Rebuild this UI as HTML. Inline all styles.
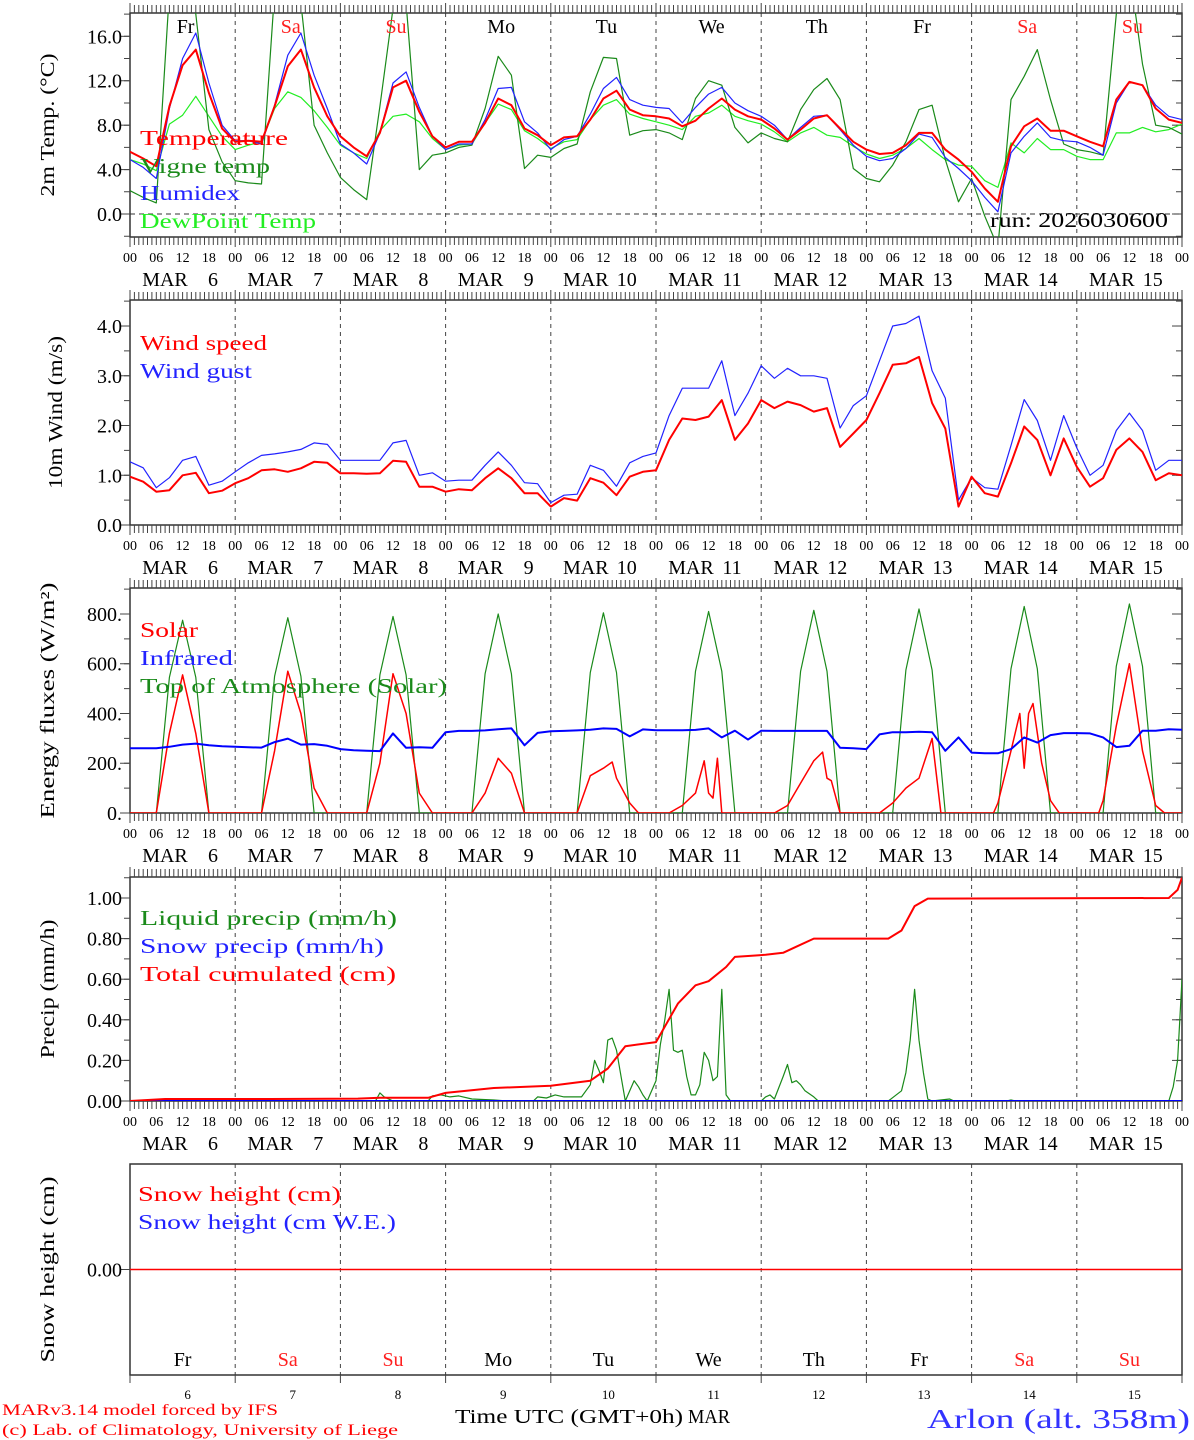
<!DOCTYPE html>
<html><head><meta charset="utf-8"><style>
html,body{margin:0;padding:0;background:#fff;}
svg{display:block;font-family:"Liberation Serif",serif;}
</style></head><body>
<svg id="chart" width="1194" height="1440" viewBox="0 0 1194 1440" xmlns="http://www.w3.org/2000/svg"></svg>
<script>
// ---------- data ----------
const dayNames = ["Fr","Sa","Su","Mo","Tu","We","Th","Fr","Sa","Su"];
const dayNums = ["6","7","8","9","10","11","12","13","14","15"];
const hourLabels = ["00","06","12","18"];
const tempTicks = ["0.0","4.0","8.0","12.0","16.0"];
const windTicks = ["0.0","1.0","2.0","3.0","4.0"];
const energyTicks = ["0.","200.","400.","600.","800."];
const precipTicks = ["0.00","0.20","0.40","0.60","0.80","1.00"];
const snowTicks = ["0.00"];
// 3-hourly series, hours 0..240
const temperature = [5.6,5.0,4.3,9.7,13.4,14.8,10.9,7.7, 6.5,6.6,6.5,9.7,13.3,14.8,11.4,8.8, 7.0,6.0,5.2,7.3,11.4,12.0,9.2,7.0, 6.0,6.5,6.5,8.2,10.4,9.8,7.7,7.1, 6.2,6.9,7.0,8.5,10.4,11.1,9.4,8.9, 8.8,8.6,7.9,8.4,9.5,10.4,9.4,8.8, 8.5,7.7,6.7,7.6,8.6,8.9,7.7,6.5, 5.8,5.4,5.5,6.2,7.3,7.3,5.8,4.9, 3.8,2.3,1.1,6.1,7.9,8.6,7.5,7.5, 7.0,6.5,6.1,10.3,11.9,11.6,9.5,8.5, 8.2];
const vigneTemp = [2.1,1.5,1.0,20,24,18,7.6,4.7, 3.0,2.8,2.7,20,25,19,8.0,5.5, 3.3,2.2,1.3,9.7,18.5,19,4.0,5.3, 5.5,6.0,6.2,9.5,14.2,12.5,4.1,5.3, 5.1,5.9,6.3,11,14.1,14.0,7.1,7.5, 7.6,7.3,6.7,10.4,12.0,11.6,7.8,6.4, 7.3,6.8,6.5,9.4,11.2,12.2,10.3,4.1, 3.2,2.9,4.4,6.5,9.4,9.8,4.9,1.1, 3.2,-0.2,-3,10.3,12.4,14.8,10.3,6.3, 5.8,5.6,5.3,18,22,13.5,8,7.8, 7.2];
const humidex = [4.9,4.2,3.2,9.5,14.0,16.3,11.8,8.0, 6.6,6.6,6.3,9.8,14.3,16.3,12.5,9.5, 6.3,5.5,4.5,7.3,11.8,12.8,9.6,7.0, 5.8,6.3,6.3,8.5,11.3,11.4,8.3,7.3, 5.8,6.7,7.0,9.0,11.3,12.3,10.3,9.8, 9.6,9.5,8.2,9.6,10.8,11.4,10.0,9.3, 8.8,8.0,6.7,7.8,8.8,8.9,7.6,6.2, 5.2,4.8,5.0,5.9,7.2,6.9,5.1,4.1, 3.0,1.5,0.2,5.5,7.0,8.2,6.9,6.6, 6.5,6.0,5.3,10.0,11.9,11.6,9.8,8.8, 8.5];
const dewPoint = [4.9,4.5,3.9,8.1,8.9,10.6,8.8,7.0, 5.8,6.2,6.5,9.5,11.0,10.5,9.3,7.8, 6.2,5.5,5.0,7.5,8.8,9.0,8.3,6.8, 5.8,6.2,6.3,8.2,9.9,9.4,7.5,6.8, 5.9,6.5,6.7,8.5,9.8,10.3,9.0,8.6, 8.3,8.0,7.6,8.8,9.1,9.8,8.8,8.4, 8.1,7.4,6.5,7.3,7.8,7.1,6.9,6.1, 5.4,5.0,5.3,5.9,6.8,5.8,4.9,4.4, 4.3,3.0,2.4,6.4,5.5,6.8,5.8,5.8, 5.2,4.9,4.9,7.3,7.3,7.8,7.4,7.6, 8.1];
const windSpeed = [0.97,0.87,0.67,0.70,1.0,1.05,0.64,0.69, 0.84,0.94,1.1,1.12,1.07,1.14,1.27,1.25, 1.04,1.04,1.03,1.04,1.29,1.27,0.77,0.77, 0.67,0.72,0.70,0.94,1.14,0.94,0.64,0.64, 0.37,0.54,0.49,0.94,0.85,0.60,0.97,1.07, 1.1,1.71,2.14,2.11,2.18,2.51,1.71,2.04, 2.51,2.35,2.48,2.41,2.28,2.35,1.57,1.84, 2.11,2.65,3.22,3.25,3.38,2.45,1.94,0.37, 0.97,0.64,0.57,1.24,1.98,1.71,1.0,1.74, 1.17,0.77,0.94,1.51,1.74,1.47,0.90,1.04, 1.0];
const windGust = [1.27,1.15,0.75,0.95,1.30,1.38,0.80,0.88, 1.07,1.25,1.40,1.43,1.47,1.52,1.65,1.62, 1.3,1.3,1.3,1.3,1.65,1.7,1.0,1.05, 0.88,0.9,0.9,1.2,1.47,1.2,0.85,0.83, 0.45,0.6,0.62,1.2,1.1,0.78,1.25,1.38, 1.45,2.2,2.75,2.75,2.75,3.3,2.2,2.65, 3.2,2.95,3.15,3.0,3.0,2.95,1.95,2.4, 2.6,3.3,4.0,4.05,4.2,3.1,2.55,0.5, 0.95,0.75,0.72,1.6,2.52,2.1,1.3,2.2, 1.55,1.0,1.2,1.9,2.25,1.9,1.1,1.3, 1.3];
const infrared = [260,260,260,266,275,279,272,268, 266,264,263,285,299,275,277,270, 257,252,250,249,320,262,264,262, 325,330,330,332,337,340,272,322, 329,330,332,335,340,338,308,336, 333,333,333,334,340,304,331,295, 331,330,330,330,330,330,262,260, 257,316,325,325,327,325,250,304, 243,240,240,257,304,283,313,321, 321,320,304,265,270,331,331,337, 335];
const toaSolar = [0,0,0,545,775,545,0,0, 0,0,0,550,785,550,0,0, 0,0,0,555,790,555,0,0, 0,0,0,560,800,560,0,0, 0,0,0,565,805,565,0,0, 0,0,0,570,810,570,0,0, 0,0,0,570,815,570,0,0, 0,0,0,575,820,575,0,0, 0,0,0,580,830,580,0,0, 0,0,0,590,840,590,0,0, 0];
const solarHours = [0,6,9,12,15,18, 30,33,36,39,42,45, 54,57,60,63,66,69, 78,81,84,87,90, 102,105,108,110,111,114,116, 123,126,129,131,132,133,134,135, 147,150,153,156,158,159,160,162, 171,174,177,180,183,185, 197,198,201,203,204,205,206,208,210,212, 221,222,225,228,231,234,236,240];
const solarVals = [0,0,320,555,320,0, 0,250,570,400,100,0, 0,200,560,400,80,0, 0,80,220,160,0, 0,150,180,205,140,40,0, 0,30,80,210,80,60,220,0, 0,30,120,210,245,140,130,0, 0,40,100,140,300,0, 0,40,250,400,180,400,440,200,50,0, 0,50,350,600,250,30,0,0];
const liquidHours = [0,30,31.5,33,56,57,58,60,68,69,71,73,75,78,83,86,92,93,95,97,99,103,105,106,107,108,109,110,111,113,115,116,117,118,120,121,122,123,124,125,126,127,128,129,130,131,132,133,134,135,136,137,144,145,146,147,149,150,151,152,153,154,156,157,173,176,177,178,179,180,181,182,183,187,188,200,201,202,237,238,239,240];
const liquidVals = [0,0,0.01,0,0,0.04,0.02,0,0,0.025,0.03,0.02,0.025,0.01,0.005,0,0,0.02,0.015,0.03,0.02,0.02,0.08,0.2,0.15,0.09,0.3,0.31,0.25,0,0.1,0.07,0.03,0,0.1,0.28,0.4,0.55,0.25,0.24,0.25,0.12,0.03,0.03,0.08,0.24,0.2,0.1,0.12,0.55,0.03,0,0,0.02,0.03,0.01,0.12,0.18,0.09,0.1,0.08,0.05,0.02,0,0,0.05,0.14,0.3,0.55,0.3,0.14,0.01,0,0.01,0,0,0.005,0,0,0.07,0.2,0.6];
const cumHours = [0,8,32,52,57,68,72,83,96,105,109,113,120,125,129,132,136,138,145,149,152,156,173,176,179,182,237,239,240];
const cumVals = [0,0.01,0.01,0.012,0.016,0.016,0.04,0.064,0.075,0.10,0.16,0.27,0.29,0.48,0.57,0.59,0.66,0.71,0.72,0.73,0.76,0.80,0.80,0.84,0.96,0.997,1.0,1.04,1.10];
const snowPrecip = [0,0];
const snowHeight = [0,0];
const snowHours = [0,240];

// ---------- layout ----------
const NS = "http://www.w3.org/2000/svg";
const svg = document.getElementById("chart");
const X0 = 130, X1 = 1182;
function xOf(h){ return X0 + h*(X1-X0)/240; }
function mk(tag, attrs, parent){
  const e = document.createElementNS(NS, tag);
  for (const k in attrs) e.setAttribute(k, attrs[k]);
  (parent||svg).appendChild(e);
  return e;
}
const panels = [
  {top:13, bot:237, vmin:-2.07, vmax:18.1, ticks:tempTicks, minor:2, title:"2m Temp. (°C)", tlen:143, tcx:47, name:"temperature-panel"},
  {top:300, bot:525, vmin:0, vmax:4.523, ticks:windTicks, minor:0.5, title:"10m Wind (m/s)", tlen:153, tcx:55, name:"wind-panel"},
  {top:588, bot:813, vmin:0, vmax:904.5, ticks:energyTicks, minor:100, title:"Energy fluxes (W/m²)", tlen:236, tcx:47, name:"energy-panel"},
  {top:877, bot:1101, vmin:0, vmax:1.1034, ticks:precipTicks, minor:0.1, title:"Precip (mm/h)", tlen:139, tcx:47, name:"precip-panel"},
  {top:1164, bot:1375, vmin:-0.5, vmax:0.5, ticks:snowTicks, minor:0, title:"Snow height (cm)", tlen:186, tcx:47, name:"snow-panel"}
];
panels.forEach(p=>{ p.y = v => p.bot - (v - p.vmin)/(p.vmax - p.vmin)*(p.bot - p.top); });

panels.forEach((p,pi)=>{
  const g = mk("g",{});
  
  
  const cp = mk("clipPath",{id:"clip"+pi}, g);
  mk("rect",{x:X0,y:p.top,width:X1-X0,height:p.bot-p.top}, cp);
  for(let d=1; d<10; d++){
    const l = mk("line",{x1:xOf(d*24),x2:xOf(d*24),y1:p.top,y2:p.bot,stroke:"#444","stroke-width":1,"stroke-dasharray":"4,4"}, g);
    
    
  }
  const fr = mk("rect",{x:X0,y:p.top,width:X1-X0,height:p.bot-p.top,fill:"none",stroke:"#333","stroke-width":1.5}, g);
  
  
  if(pi<4){
    let d = "";
    for(let h=0; h<=240; h++){
      const x = xOf(h).toFixed(1);
      const len = (h%24===0)?10:8;
      d += `M${x} ${p.top}v${-len}M${x} ${p.bot}v${len}`;
    }
    const tk = mk("path",{d:d,stroke:"#444","stroke-width":1,fill:"none"}, g);
    
    
    for(let dd=0; dd<10; dd++){
      for(let k=0;k<4;k++){
        const t = mk("text",{x:xOf(dd*24+k*6),y:p.bot+25,"font-size":14,"text-anchor":"middle",fill:"#000"}, g);
        t.textContent = hourLabels[k];
        
        
      }
      const m = mk("text",{x:xOf(dd*24)+35,y:p.bot+49,"font-size":20,"text-anchor":"middle",fill:"#000"}, g);
      m.textContent = "MAR";
      
      
      const n = mk("text",{x:xOf(dd*24)+(dayNums[dd].length>1?76:83),y:p.bot+49,"font-size":20,"text-anchor":"middle",fill:"#000"}, g);
      n.textContent = dayNums[dd];
      
      
    }
    const t = mk("text",{x:X1,y:p.bot+25,"font-size":14,"text-anchor":"middle",fill:"#000"}, g);
    t.textContent = "00";
    
    
  } else {
    let d = "";
    for(let dd=0; dd<=10; dd++){ const x = xOf(dd*24).toFixed(1); d += `M${x} ${p.bot}v8`; }
    const tk = mk("path",{d:d,stroke:"#444","stroke-width":1,fill:"none"}, g);
    
    
  }
  if(p.minor>0){
    let d="";
    for(let v=Math.ceil(p.vmin/p.minor)*p.minor; v<=p.vmax+1e-9; v+=p.minor){
      const y = p.y(v).toFixed(1);
      d += `M${X0} ${y}h-6M${X1} ${y}h-6`;
    }
    const tk = mk("path",{d:d,stroke:"#444","stroke-width":1,fill:"none"}, g);
    
    
  }
  p.ticks.forEach(lbl=>{
    const v = parseFloat(lbl);
    const y = p.y(v);
    const tl = mk("line",{x1:X0-10,x2:X0,y1:y,y2:y,stroke:"#444","stroke-width":1}, g);
    
    
    const tr = mk("line",{x1:X1-10,x2:X1,y1:y,y2:y,stroke:"#444","stroke-width":1}, g);
    
    
    const t = mk("text",{x:122,y:y+7,"font-size":20,"text-anchor":"end",fill:"#000"}, g);
    t.textContent = lbl;
    
    
  });
  const yc = (p.top+p.bot)/2;
  const tt = mk("text",{x:p.tcx,y:yc,"font-size":20,"text-anchor":"middle",transform:`rotate(-90 ${p.tcx} ${yc})`,textLength:p.tlen,lengthAdjust:"spacingAndGlyphs",dy:7,fill:"#000"}, g);
  tt.textContent = p.title;
  
  
  p.g = g;
});

function series(pi, hours, vals, color, width, name){
  const p = panels[pi];
  const n = Math.min(hours.length, vals.length);
  const pts = [];
  for(let i=0;i<n;i++) pts.push(xOf(hours[i]).toFixed(1)+","+p.y(vals[i]).toFixed(1));
  const pl = mk("polyline",{points:pts.join(" "),fill:"none",stroke:color,"stroke-width":width,"stroke-linejoin":"round","clip-path":`url(#clip${pi})`}, p.g);
  
  
}
const h3 = temperature.map((_,i)=>i*3);

{
  const p = panels[0];
  const zl = mk("line",{x1:X0,x2:X1,y1:p.y(0),y2:p.y(0),stroke:"#333","stroke-width":1,"stroke-dasharray":"5,4"}, p.g);
  
  
}
series(0, h3, dewPoint, "#22ee22", 1.2, "dewpoint-line");
series(0, h3, vigneTemp, "#1a8a1a", 1.2, "vigne-temp-line");
series(0, h3, humidex, "#2222ff", 1.2, "humidex-line");
series(0, h3, temperature, "#ff0000", 2, "temperature-line");
series(1, h3, windGust, "#2222ff", 1.2, "wind-gust-line");
series(1, h3, windSpeed, "#ff0000", 2, "wind-speed-line");
series(2, h3, toaSolar, "#1a8a1a", 1.2, "toa-solar-line");
series(2, solarHours, solarVals, "#ff0000", 1.5, "solar-line");
series(2, h3, infrared, "#0000ff", 2, "infrared-line");
series(3, liquidHours, liquidVals, "#1a8a1a", 1.2, "liquid-precip-line");
series(3, snowHours, snowPrecip, "#0000ff", 2, "snow-precip-line");
series(3, cumHours, cumVals, "#ff0000", 2, "cumulated-precip-line");
series(4, snowHours, snowHeight, "#ff0000", 1.5, "snow-height-line");

for(let d=0; d<10; d++){
  const red = (dayNames[d]==="Sa"||dayNames[d]==="Su");
  const t = mk("text",{x:xOf(d*24+12)+3,y:33,"font-size":20,"text-anchor":"middle",fill:red?"#ff2020":"#000"});
  t.textContent = dayNames[d];
  
  
  const b = mk("text",{x:xOf(d*24+12),y:1366,"font-size":20,"text-anchor":"middle",fill:red?"#ff2020":"#000"});
  b.textContent = dayNames[d];
  
  
  const n = mk("text",{x:xOf(d*24+12)+5,y:1399,"font-size":13,"text-anchor":"middle",fill:"#000"});
  n.textContent = dayNums[d];
  
  
}

function legend(x,y,txt,color,len,size,name){
  const t = mk("text",{x:x,y:y,"font-size":size||21,fill:color,textLength:len,lengthAdjust:"spacingAndGlyphs"});
  t.textContent = txt;
  
  
}
legend(140,145,"Temperature","#ff0000",148,21,"legend-temperature");
legend(140,173,"Vigne temp","#1a8a1a",130,21,"legend-vigne-temp");
legend(140,200,"Humidex","#2222ff",100,21,"legend-humidex");
legend(140,228,"DewPoint Temp","#22ee22",176,21,"legend-dewpoint");
legend(990,227,"run: 2026030600","#000",178,21,"run-label");
legend(140,350,"Wind speed","#ff0000",127,21,"legend-wind-speed");
legend(140,378,"Wind gust","#2222ff",112,21,"legend-wind-gust");
legend(140,637,"Solar","#ff0000",58,21,"legend-solar");
legend(140,665,"Infrared","#2222ff",93,21,"legend-infrared");
legend(140,693,"Top of Atmosphere (Solar)","#1a8a1a",307,21,"legend-toa-solar");
legend(140,925,"Liquid precip (mm/h)","#1a8a1a",257,21,"legend-liquid-precip");
legend(140,953,"Snow precip (mm/h)","#2222ff",244,21,"legend-snow-precip");
legend(140,981,"Total cumulated (cm)","#ff0000",256,21,"legend-total-cumulated");
legend(138,1201,"Snow height (cm)","#ff0000",203,21,"legend-snow-height");
legend(138,1229,"Snow height (cm W.E.)","#2222ff",258,21,"legend-snow-height-we");
legend(2,1415,"MARv3.14 model forced by IFS","#ff0000",276,16,"model-credit");
legend(2,1435,"(c) Lab. of Climatology, University of Liege","#ff0000",396,16,"copyright");
legend(455,1423,"Time UTC (GMT+0h)","#000",228,20,"x-axis-title");
legend(688,1423,"MAR","#000",42,20,"x-axis-month");
legend(927,1428,"Arlon (alt. 358m)","#3333ff",263,27,"station-title");
</script>
</body></html>
